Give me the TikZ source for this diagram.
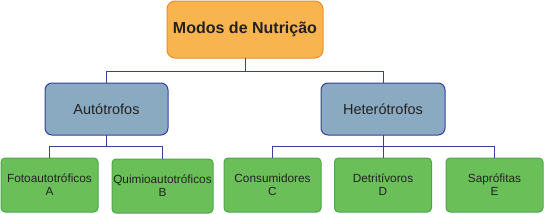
\documentclass[tikz,border=0pt]{standalone}
\usepackage{fontspec}
\setmainfont{Liberation Sans}
\begin{document}
\begin{tikzpicture}[x=1pt,y=-1pt,
  topbox/.style={draw=topdraw, line width=1pt, fill=topfill, rounded corners=8pt, text=txt,
    minimum width=156pt, minimum height=57pt, inner sep=0pt, outer sep=0pt,
    font=\fontsize{16}{18}\selectfont\bfseries},
  midbox/.style={draw=middraw, line width=1pt, fill=midfill, rounded corners=7pt, text=txt,
    minimum width=123pt, minimum height=52pt, inner sep=0pt, outer sep=0pt,
    font=\fontsize{14.5}{16}\selectfont},
  leafbox/.style={draw=leafdraw, line width=1pt, fill=leaffill, rounded corners=4pt, text=txt,
    minimum width=97pt, minimum height=54pt, inner sep=0pt, outer sep=0pt, align=center,
    font=\fontsize{11.8}{13}\selectfont},
  conn/.style={draw=conncol, line width=0.9pt}]
\definecolor{topfill}{HTML}{F8B44E}
\definecolor{topdraw}{HTML}{F28C28}
\definecolor{midfill}{HTML}{8AAAC1}
\definecolor{middraw}{HTML}{34409C}
\definecolor{conncol}{HTML}{3442A0}
\definecolor{leaffill}{HTML}{6BBF59}
\definecolor{leafdraw}{HTML}{4EA64A}
\definecolor{txt}{HTML}{222222}
\useasboundingbox (0,0) rectangle (544,214);
% boxes
\node[topbox] (top) at (245,29.5) {Modos de Nutrição};
\node[midbox] (auto) at (106.5,109) {Autótrofos};
\node[midbox, minimum width=124pt] (het) at (383,109) {Heterótrofos};
\node[leafbox] (a) at (49.5,185) {Fotoautotróficos\\A};
\node[leafbox, minimum width=101pt] (b) at (162.5,186) {Quimioautotróficos\\B};
\node[leafbox] (c) at (272.5,185) {Consumidores\\C};
\node[leafbox] (d) at (383,185) {Detritívoros\\D};
\node[leafbox] (e) at (494.5,185) {Saprófitas\\E};
% junction points
\coordinate (j0) at (top.center |- 0,71);
\coordinate (j1) at (auto.center |- 0,146);
\coordinate (j2) at (het.center |- 0,146);
% connectors
\draw[conn] (top.south) -- (j0);
\draw[conn] (j0) -| (auto.north);
\draw[conn] (j0) -| (het.north);
\draw[conn] (auto.south) -- (j1);
\draw[conn] (j1) -| (a.north);
\draw[conn] (j1) -| (b.north);
\draw[conn] (het.south) -- (j2);
\draw[conn] (j2) -| (c.north);
\draw[conn] (j2) -- (d.north);
\draw[conn] (j2) -| (e.north);
\end{tikzpicture}
\end{document}
